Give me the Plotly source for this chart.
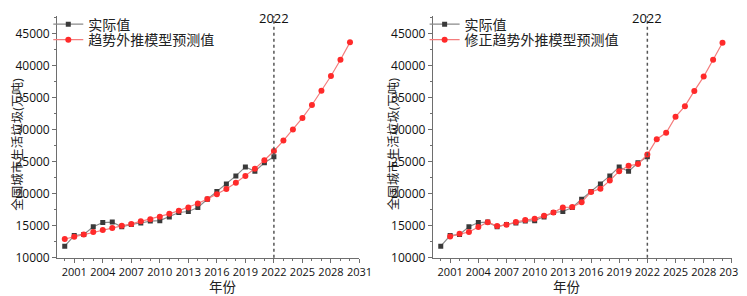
import plotly.graph_objects as go

years_actual = list(range(2000, 2023))
actual = [11819, 13470, 13650, 14857, 15509, 15577, 14841, 15215, 15438, 15734,
          15805, 16395, 17081, 17239, 17860, 19142, 20362, 21521, 22802, 24206,
          23512, 24869, 25810]

years_trend = list(range(2000, 2031))
trend = [12930, 13280, 13640, 14040, 14340, 14650, 15000, 15300, 15710, 16010,
         16410, 16870, 17370, 17880, 18480, 19190, 19950, 20760, 21720, 22780,
         23940, 25250, 26700, 28330, 30050, 31870, 33890, 36110, 38430, 40960, 43690]

years_mod = list(range(2001, 2031))
modified = [13330, 13740, 14040, 14800, 15560, 14950, 15150, 15610, 15910, 16110,
            16570, 17070, 17880, 17930, 18690, 20300, 20810, 22070, 23540, 24390,
            24650, 26150, 28530, 29540, 32040, 33710, 36100, 38340, 40980, 43630]

x_ticks = list(range(2001, 2032, 3))
x_ticktext = [str(v) for v in x_ticks]
y_ticks = [10000, 15000, 20000, 25000, 30000, 35000, 40000, 45000]
y_ticktext = [str(v) for v in y_ticks]
divider_year = 2022

FONT = "Open Sans, Noto Sans CJK SC, sans-serif"
W, H = 747, 296

fig = go.Figure()

def add_panel(idx, pred_x, pred_y, pred_name, leg_a, leg_b):
    xa = "x" if idx == 1 else "x2"
    ya = "y" if idx == 1 else "y2"
    fig.add_trace(go.Scatter(
        x=years_actual, y=actual, name="实际值", mode="lines+markers",
        line=dict(color="#8a8a8a", width=1.2),
        marker=dict(symbol="square", size=5, color="#3a3a3a"),
        xaxis=xa, yaxis=ya, legend=leg_a))
    fig.add_trace(go.Scatter(
        x=pred_x, y=pred_y, name=pred_name, mode="lines+markers",
        line=dict(color="#f47c7c", width=1.2),
        marker=dict(symbol="circle", size=6, color="#ff2a2a"),
        xaxis=xa, yaxis=ya, legend=leg_b))

add_panel(1, years_trend, trend, "趋势外推模型预测值", "legend", "legend2")
add_panel(2, years_mod, modified, "修正趋势外推模型预测值", "legend3", "legend4")

y0 = (H - 256.7) / H
y1 = (H - 8.3) / H
dom1 = [50 / W, 357.7 / W]
dom2 = [432.3 / W, 736.7 / W]

axis_common = dict(
    showline=True, linecolor="#6e6e6e", linewidth=1, mirror=False,
    showgrid=False, zeroline=False, ticks="outside", ticklen=4,
    tickcolor="#6e6e6e", tickangle=0,
)
xfont = dict(family=FONT, size=11, color="#111")
yfont = dict(family=FONT, size=12, color="#111")
minor_x = dict(dtick=1, tick0=2001, ticks="outside", ticklen=2, tickcolor="#6e6e6e")
minor_y = dict(dtick=2500, tick0=10000, ticks="outside", ticklen=2, tickcolor="#6e6e6e")

def leg(xpx, ypx):
    return dict(x=xpx / W, y=1 - ypx / H, xanchor="left", yanchor="middle",
                bgcolor="rgba(0,0,0,0)", font=dict(family=FONT, size=14, color="#222"),
                itemwidth=30, tracegroupgap=0)

fig.update_layout(
    width=W, height=H, margin=dict(l=0, r=0, t=0, b=0),
    paper_bgcolor="white", plot_bgcolor="white",
    font=dict(family=FONT, color="#222"),
    xaxis=dict(domain=dom1, anchor="y", range=[1999.2, 2031], tickvals=x_ticks,
               ticktext=x_ticktext, minor=minor_x, tickfont=xfont, **axis_common),
    yaxis=dict(domain=[y0, y1], anchor="x", range=[10000, 47800], tickvals=y_ticks,
               ticktext=y_ticktext, minor=minor_y, tickfont=yfont, **axis_common),
    xaxis2=dict(domain=dom2, anchor="y2", range=[1999.15, 2031], tickvals=x_ticks,
                ticktext=x_ticktext, minor=minor_x, tickfont=xfont, **axis_common),
    yaxis2=dict(domain=[y0, y1], anchor="x2", range=[10000, 47800], tickvals=y_ticks,
                ticktext=y_ticktext, minor=minor_y, tickfont=yfont, **axis_common),
    legend=leg(41, 17),
    legend2=leg(41, 33),
    legend3=leg(424, 17),
    legend4=leg(424, 33),
    showlegend=True,
)

shapes = []
annotations = []
for xa, ya, xd in [("x", "y", dom1), ("x2", "y2", dom2)]:
    shapes.append(dict(type="line", xref=xa, yref="paper", x0=divider_year, x1=divider_year,
                       y0=y0, y1=y1, line=dict(color="#555", width=1.5, dash="dot")))
    annotations.append(dict(x=divider_year, xref=xa, y=1, yref="paper",
                            text=str(divider_year), showarrow=False, yanchor="top",
                            borderpad=0, font=dict(family=FONT, size=13, color="#111")))
    annotations.append(dict(x=(xd[0] + xd[1]) / 2, xref="paper", y=1 - 287 / H, yref="paper",
                            text="年份", showarrow=False, yanchor="middle", borderpad=0,
                            font=dict(family=FONT, size=13.5, color="#222")))
    annotations.append(dict(x=xd[0] - 50 / W, xref="paper", y=1 - 140 / H, yref="paper",
                            text="全国城市生活垃圾(万吨)", showarrow=False, textangle=-90,
                            xanchor="left", yanchor="middle", borderpad=0,
                            font=dict(family=FONT, size=12.5, color="#222")))

fig.update_layout(shapes=shapes, annotations=annotations)
fig.write_html("out.html")
